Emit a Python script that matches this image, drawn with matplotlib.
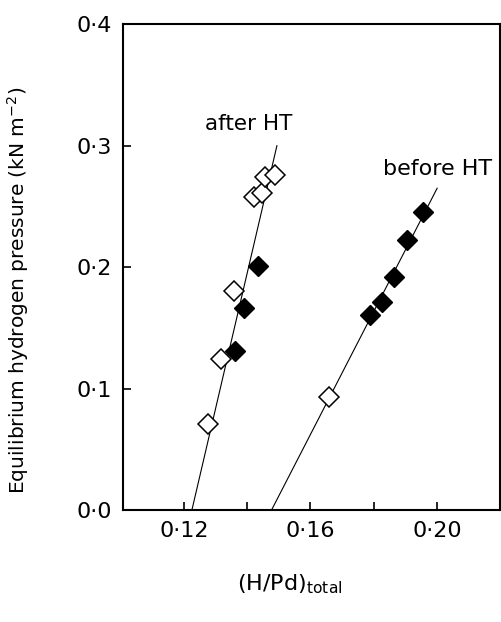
import matplotlib
matplotlib.use('Agg')
import matplotlib.pyplot as plt

# data
after_open_x = [0.1277, 0.1318, 0.1357, 0.1421, 0.1446, 0.1457, 0.1488]
after_open_y = [0.071, 0.124, 0.180, 0.258, 0.261, 0.274, 0.276]
after_fill_x = [0.1362, 0.1389, 0.1435]
after_fill_y = [0.131, 0.166, 0.201]
after_line_x = [0.1225, 0.1494]
after_line_y = [0.0, 0.300]

before_open_x = [0.1660]
before_open_y = [0.093]
before_fill_x = [0.1790, 0.1827, 0.1865, 0.1907, 0.1957]
before_fill_y = [0.161, 0.171, 0.192, 0.222, 0.245]
before_line_x = [0.1477, 0.2001]
before_line_y = [0.0, 0.265]

xticks = [0.12, 0.14, 0.16, 0.18, 0.20]
xlabels = ["0·12", "", "0·16", "", "0·20"]
yticks = [0.0, 0.1, 0.2, 0.3, 0.4]
ylabels = ["0·0", "0·1", "0·2", "0·3", "0·4"]

fig = plt.figure(figsize=(5.01, 6.22), dpi=100)
ax = fig.add_axes([0.2455, 0.180, 0.752, 0.781])

ax.plot(after_line_x, after_line_y, color='black', lw=0.8)
ax.plot(before_line_x, before_line_y, color='black', lw=0.8)

ms = 10.5
ax.plot(after_open_x, after_open_y, 'D', ms=ms, mfc='white', mec='black', mew=1.1, ls='none')
ax.plot(before_open_x, before_open_y, 'D', ms=ms, mfc='white', mec='black', mew=1.1, ls='none')
ax.plot(after_fill_x, after_fill_y, 'D', ms=ms, mfc='black', mec='black', ls='none')
ax.plot(before_fill_x, before_fill_y, 'D', ms=ms, mfc='black', mec='black', ls='none')

ax.text(0.1405, 0.318, "after HT", fontsize=15.5, ha='center', va='center')
ax.text(0.2003, 0.281, "before HT", fontsize=16, ha='center', va='center')

ax.set_xlim(0.1007, 0.2199)
ax.set_ylim(0.0, 0.4)
ax.set_xticks(xticks)
ax.set_xticklabels(xlabels, fontsize=16)
ax.set_yticks(yticks)
ax.set_yticklabels(ylabels, fontsize=16)
ax.tick_params(direction='in', length=6, width=1.2, pad=8)
for s in ax.spines.values():
    s.set_linewidth(1.5)

ax.set_ylabel("Equilibrium hydrogen pressure (kN m$^{-2}$)", fontsize=14.5)
ax.yaxis.set_label_coords(-0.243, 0.453)
ax.set_xlabel("(H/Pd)$_{\\mathregular{total}}$", fontsize=16)
ax.xaxis.set_label_coords(0.443, -0.128)

fig.savefig("out.png", dpi=100)
